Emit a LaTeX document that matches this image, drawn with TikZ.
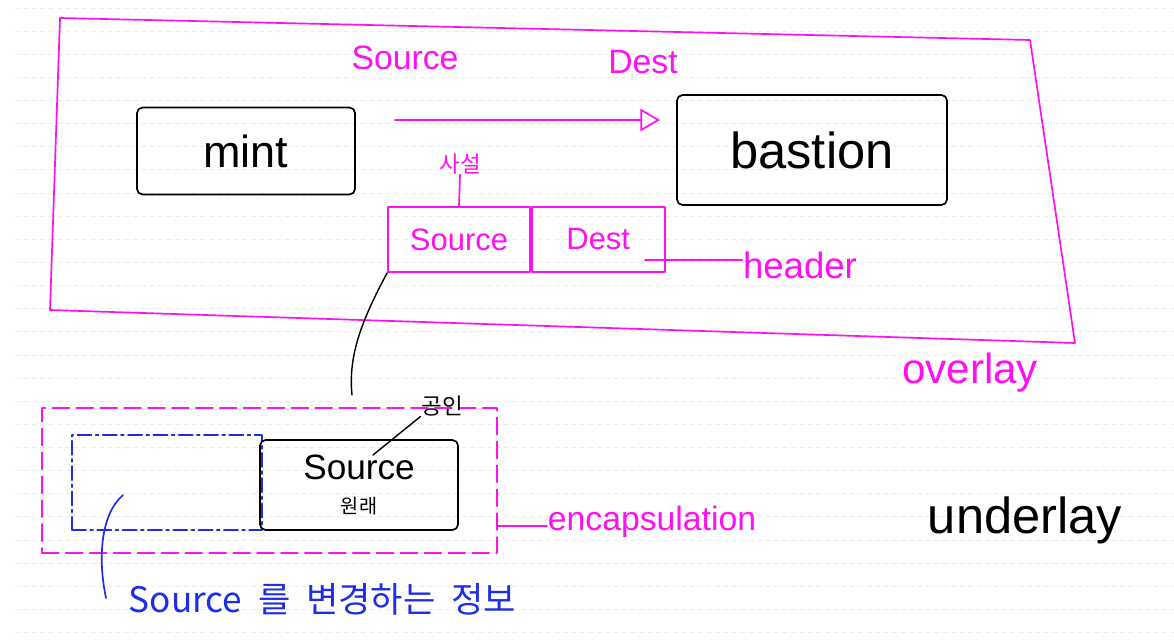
\documentclass[tikz,border=0pt]{standalone}
\usepackage{fontspec}
\setmainfont{Liberation Sans}
\newfontfamily\kr{Noto Sans CJK KR}
\usepackage{xcolor}
\usetikzlibrary{arrows.meta,positioning,calc}
\definecolor{penpink}{HTML}{FF10F0}
\definecolor{penblue}{HTML}{1E2EE6}

\begin{document}
\begin{tikzpicture}[
  x=0.025cm, y=-0.025cm,
  line width=1.2pt, line cap=round, line join=round,
  >={Triangle[open,length=14pt,width=16pt]},
  sketchbox/.style={draw=black, rounded corners=4pt, inner sep=0pt, align=center},
  tagbox/.style={draw=penpink, inner sep=0pt, minimum height=1.625cm,
                 text=penpink, font=\fontsize{22}{24}\selectfont},
  note/.style={text=penpink, inner sep=0pt, anchor=base},
  inknote/.style={note, text=black},
  flow/.style={->, penpink},
  link/.style={black, line width=1pt},
  ruling/.style={black!8, line width=0.6pt, dashed},
]

%% -- paper ---------------------------------------------------------------
\useasboundingbox (0,0) rectangle (1174,643);
\fill[white] (0,0) rectangle (1174,643);
\foreach \k in {0,...,27}
  \draw[ruling] (15,8+23.13*\k) -- (1174,8+23.13*\k);

%% -- overlay frame -------------------------------------------------------
\draw[penpink] (60,18) -- (1030,40) -- (1075,343) -- (50,310) -- cycle;

%% -- hosts ---------------------------------------------------------------
\node[sketchbox, minimum width=5.45cm, minimum height=2.175cm,
      font=\fontsize{32}{34}\selectfont] (mint) at (246,151) {mint};
\node[sketchbox, minimum width=6.75cm, minimum height=2.75cm,
      font=\fontsize{36}{38}\selectfont] (bastion) at (812,150) {bastion};

\node[note, font=\fontsize{24}{26}\selectfont] (srclab) at (405,70) {Source};
\node[note, font=\fontsize{24}{26}\selectfont] (dstlab) at (643,74) {Dest};

\coordinate (flowstart) at (395,120);
\coordinate (flowend)   at (660,120);
\draw[flow] (flowstart) -- (flowend);

%% -- header --------------------------------------------------------------
\node[tagbox, minimum width=3.55cm] (hsrc) at (459,239.5) {Source};
\node[tagbox, minimum width=3.325cm, anchor=west] (hdst) at (hsrc.east) {Dest};

\node[note, font=\kr\fontsize{16}{18}\selectfont] (private) at (460,172) {사설};
\draw[penpink] (private.south) -- (hsrc.north);

\node[note, font=\fontsize{26}{28}\selectfont] (headerlab) at (800,278) {header};
\coordinate (headertap) at (645,260);
\draw[penpink] (headertap) -- (headertap -| headerlab.west);

\node[note, font=\fontsize{30}{32}\selectfont] (overlaylab) at (970,383) {overlay};

%% -- encapsulation -------------------------------------------------------
\coordinate (tailend) at (352,395);
\draw[link] (hsrc.south west) .. controls (362,320) and (348,355) .. (tailend);

\node[draw=penpink, dash pattern=on 12pt off 5pt, inner sep=0pt,
      minimum width=11.375cm, minimum height=3.625cm] (encap) at (269.5,480.5) {};
\node[draw=penblue, dash pattern=on 10pt off 3pt on 2pt off 3pt, inner sep=0pt,
      minimum width=4.75cm, minimum height=2.375cm] (oldhdr) at (167,482.5) {};
\node[sketchbox, minimum width=4.95cm, minimum height=2.25cm,
      font=\fontsize{25}{24}\selectfont] (srcbox) at (359,485)
  {Source\\{\kr\fontsize{14}{16}\selectfont 원래}};

\node[inknote, font=\kr\fontsize{16}{18}\selectfont] (public) at (442,414) {공인};
\coordinate (publicend) at (373,455);
\draw[link] (public.south west) -- (publicend);

\node[note, font=\fontsize{24}{26}\selectfont] (encaplab) at (652,530) {encapsulation};
\draw[penpink] (encap.east |- encaplab.mid) -- (encaplab.mid west);

\node[inknote, font=\fontsize{36}{38}\selectfont] (underlaylab) at (1025,533) {underlay};

%% -- what rewrites the source --------------------------------------------
\node[note, anchor=base west, text=penblue, font=\kr\fontsize{25}{27}\selectfont]
  (changeinfo) at (128,612)
  {Source\hspace{0.45em}를\hspace{0.45em}변경하는\hspace{0.45em}정보};
\coordinate (blueroot) at (123,495);
\coordinate (bluetail) at (106,598);
\draw[penblue] (blueroot) .. controls (100,515) and (98,560) .. (bluetail);

\end{tikzpicture}
\end{document}
